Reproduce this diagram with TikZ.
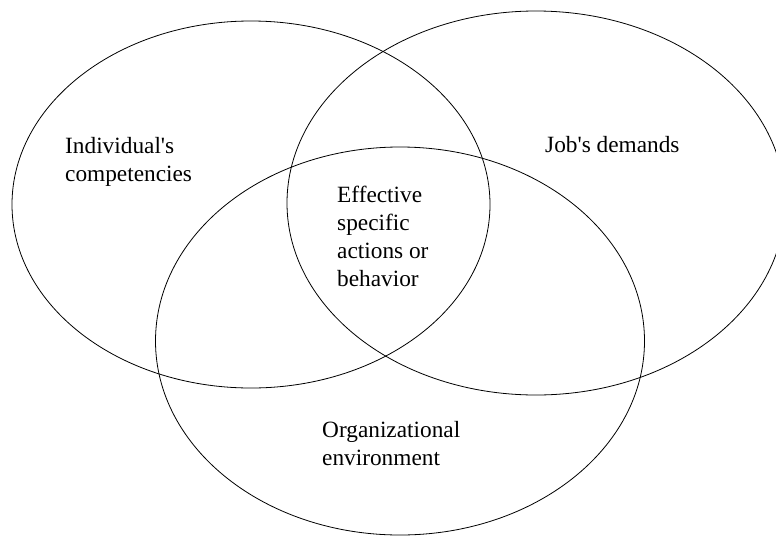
\documentclass[tikz,border=0pt]{standalone}
\usepackage{fontspec}
\setmainfont{Liberation Serif}
\begin{document}
\begin{tikzpicture}[x=1pt,y=-1pt,
  venn/.style={draw=black,line width=0.8pt},
  venntext/.style={anchor=north west,inner sep=0pt,align=left,font=\fontsize{23.3}{28}\selectfont}]
\clip (0,0) rectangle (776,536);
\coordinate (indc) at (251,204.5);
\coordinate (jobc) at (536,203);
\coordinate (orgc) at (400,341);
\draw[venn] (indc) ellipse [x radius=239,y radius=183.5];%individual
\draw[venn] (jobc) ellipse [x radius=249,y radius=192];%job
\draw[venn] (orgc) ellipse [x radius=244.5,y radius=194];%organization
\node[venntext] (ind) at (65,137) {Individual\textquotesingle s\\competencies};
\node[venntext] (job) at (545,136) {Job\textquotesingle s demands};
\node[venntext] (eff) at (337,186) {Effective\\specific\\actions or\\behavior};
\node[venntext] (org) at (322,421) {Organizational\\environment};
\end{tikzpicture}
\end{document}
